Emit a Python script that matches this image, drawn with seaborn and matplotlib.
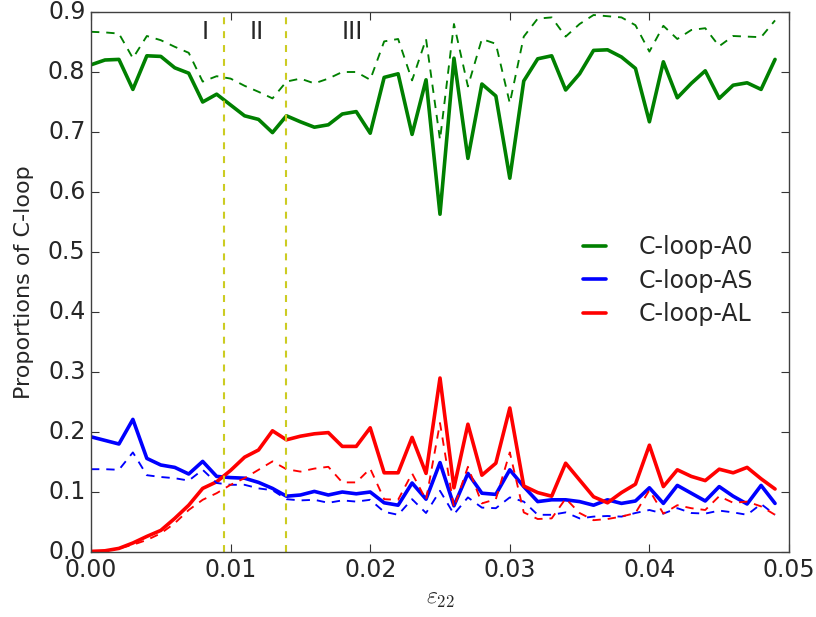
import numpy as np
import pandas as pd
import matplotlib
matplotlib.use("Agg")
import matplotlib.pyplot as plt
import seaborn as sns

strain = [round(0.001 * i, 3) for i in range(50)]

a0_solid = [0.812, 0.820, 0.821, 0.771, 0.827, 0.826, 0.807, 0.798, 0.750, 0.763,
            0.745, 0.727, 0.721, 0.699, 0.727, 0.717, 0.708, 0.712, 0.730, 0.734,
            0.698, 0.791, 0.797, 0.696, 0.787, 0.563, 0.823, 0.656, 0.780, 0.760,
            0.623, 0.785, 0.822, 0.827, 0.770, 0.797, 0.836, 0.837, 0.825, 0.806,
            0.717, 0.817, 0.757, 0.781, 0.802, 0.756, 0.778, 0.782, 0.771, 0.821]
a0_dashed = [0.867, 0.866, 0.864, 0.823, 0.860, 0.853, 0.842, 0.832, 0.784, 0.793,
             0.789, 0.777, 0.767, 0.756, 0.784, 0.789, 0.781, 0.789, 0.800, 0.800,
             0.787, 0.851, 0.855, 0.786, 0.855, 0.687, 0.880, 0.776, 0.855, 0.847,
             0.748, 0.859, 0.889, 0.891, 0.859, 0.880, 0.895, 0.893, 0.891, 0.878,
             0.834, 0.877, 0.855, 0.870, 0.873, 0.843, 0.860, 0.859, 0.858, 0.886]
as_solid = [0.192, 0.186, 0.180, 0.221, 0.156, 0.145, 0.141, 0.130, 0.151, 0.126,
            0.124, 0.123, 0.116, 0.106, 0.093, 0.095, 0.101, 0.095, 0.100, 0.097,
            0.100, 0.082, 0.078, 0.115, 0.088, 0.149, 0.077, 0.131, 0.098, 0.096,
            0.137, 0.109, 0.084, 0.087, 0.087, 0.084, 0.078, 0.087, 0.081, 0.085,
            0.107, 0.081, 0.111, 0.098, 0.085, 0.109, 0.093, 0.080, 0.111, 0.081]
as_dashed = [0.138, 0.138, 0.137, 0.166, 0.128, 0.125, 0.123, 0.119, 0.137, 0.115,
             0.112, 0.112, 0.106, 0.103, 0.088, 0.086, 0.087, 0.082, 0.086, 0.084,
             0.087, 0.067, 0.062, 0.088, 0.065, 0.102, 0.063, 0.091, 0.074, 0.073,
             0.091, 0.084, 0.062, 0.062, 0.066, 0.056, 0.059, 0.060, 0.059, 0.065,
             0.070, 0.064, 0.073, 0.065, 0.064, 0.069, 0.066, 0.062, 0.080, 0.062]
al_solid = [0.001, 0.002, 0.006, 0.015, 0.026, 0.036, 0.056, 0.078, 0.106, 0.117,
            0.136, 0.158, 0.170, 0.202, 0.187, 0.193, 0.197, 0.199, 0.176, 0.176,
            0.207, 0.132, 0.132, 0.191, 0.131, 0.290, 0.107, 0.213, 0.128, 0.148,
            0.240, 0.110, 0.099, 0.093, 0.148, 0.120, 0.092, 0.082, 0.099, 0.113,
            0.178, 0.109, 0.137, 0.126, 0.119, 0.138, 0.132, 0.141, 0.122, 0.105]
al_dashed = [0.001, 0.002, 0.006, 0.012, 0.020, 0.031, 0.048, 0.070, 0.087, 0.098,
             0.112, 0.123, 0.137, 0.151, 0.138, 0.134, 0.139, 0.142, 0.116, 0.116,
             0.139, 0.088, 0.087, 0.131, 0.087, 0.215, 0.074, 0.142, 0.081, 0.088,
             0.166, 0.066, 0.055, 0.056, 0.089, 0.065, 0.053, 0.055, 0.059, 0.065,
             0.103, 0.064, 0.078, 0.073, 0.070, 0.093, 0.082, 0.084, 0.076, 0.062]

labels = ["C-loop-A0", "C-loop-AS", "C-loop-AL"]
colors = ["#008000", "#0000ff", "#ff0000"]
stage_bounds = [0.0095, 0.014]
stage_names = ["I", "II", "III"]
stage_x = [0.0082, 0.0119, 0.0187]

plt.style.use("classic")
sns.set_style("ticks", {"xtick.direction": "in", "ytick.direction": "in"})
plt.rcParams["font.family"] = ["DejaVu Sans"]
plt.rcParams["mathtext.fontset"] = "cm"

fig = plt.figure(figsize=(8.16, 6.17), dpi=100, facecolor="white")
ax = fig.add_axes([91 / 816, 1 - 552 / 617, (789 - 91) / 816, (552 - 12) / 617])
ax.set_facecolor("white")

solid_sets = [a0_solid, as_solid, al_solid]
dashed_sets = [a0_dashed, as_dashed, al_dashed]
for ys, c, lab in zip(solid_sets, colors, labels):
    df = pd.DataFrame({"x": strain, "y": ys})
    sns.lineplot(data=df, x="x", y="y", ax=ax, color=c, lw=2.6, label=lab,
                 errorbar=None, sort=False)
for ys, c in zip(dashed_sets, colors):
    df = pd.DataFrame({"x": strain, "y": ys})
    sns.lineplot(data=df, x="x", y="y", ax=ax, color=c, lw=1.35,
                 errorbar=None, sort=False, legend=False)
    ax.lines[-1].set_dashes([6, 5])

for xb in stage_bounds:
    ax.axvline(xb, color="#cccc22", lw=1.5, ls=(0, (5, 5)))
for xs, nm in zip(stage_x, stage_names):
    ax.text(xs, 0.867, nm, ha="center", va="center", fontsize=17)

ax.set_xlim(0, 0.05)
ax.set_ylim(0, 0.9)
ax.set_xticks([0.0, 0.01, 0.02, 0.03, 0.04, 0.05])
ax.set_xticklabels(["0.00", "0.01", "0.02", "0.03", "0.04", "0.05"])
ax.set_yticks(np.arange(0, 0.91, 0.1))
ax.set_yticklabels([f"{v:.1f}" for v in np.arange(0, 0.91, 0.1)])
ax.tick_params(axis="both", which="major", direction="in", length=6, width=0.8,
               labelsize=17, top=True, right=True, pad=4, color="0.2")
ax.minorticks_off()
for sp in ax.spines.values():
    sp.set_color("0.25")
    sp.set_linewidth(1.0)

ax.set_xlabel(r"$\varepsilon_{22}$", fontsize=17, labelpad=3)
ax.set_ylabel("Proportions of C-loop", fontsize=16, labelpad=10)

leg = ax.legend(loc="upper left", bbox_to_anchor=(0.664, 0.626), frameon=False,
                fontsize=17, handlelength=1.6, handletextpad=1.05,
                labelspacing=0.4)

fig.savefig("out.png", dpi=100, facecolor="white")
